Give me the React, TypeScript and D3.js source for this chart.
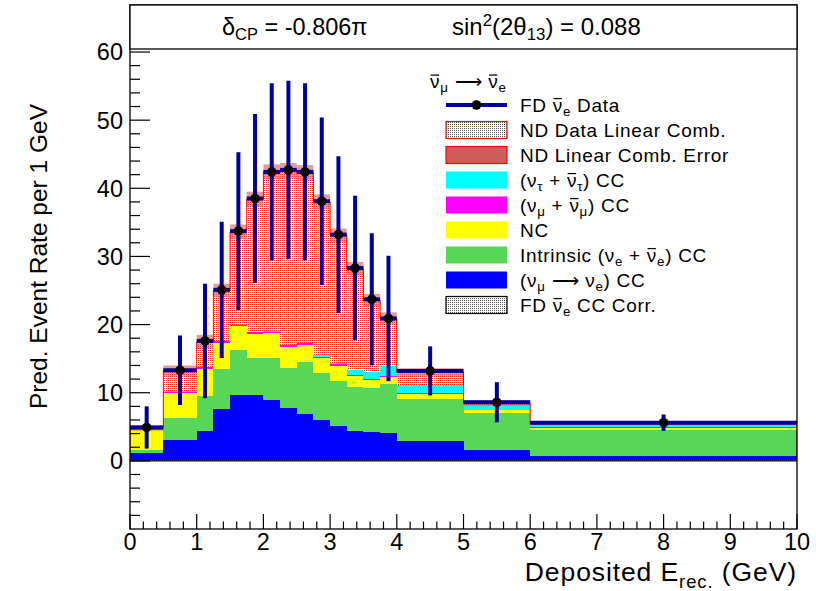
import React from 'react';
import * as d3 from 'd3';

// ---------- data (per 1 GeV) ----------
const binEdges = [0, 0.5, 1, 1.25, 1.5, 1.75, 2, 2.25, 2.5, 2.75, 3, 3.25, 3.5, 3.75, 4, 5, 6, 10];
const dataValues = [4.9, 13.3, 17.6, 25.1, 33.7, 38.5, 42.4, 42.7, 42.4, 38.1, 33.2, 28.3, 23.7, 20.9, 13.2, 8.6, 5.6];
const dataErrors = [3.1, 5.1, 8.4, 10.0, 11.6, 12.4, 13.0, 13.1, 13.0, 12.3, 11.5, 10.6, 9.7, 9.2, 3.6, 2.95, 1.2];
const fdCorr = [0.15, 0.15, 0.15, 0.15, 0.15, 0.15, 0.15, 0.15, 0.15, 0.15, 0.15, 0.15, 0.15, 0.15, 0.15, 0.15, 0.15];
const numuToNue = [1.0, 2.85, 4.3, 7.5, 9.45, 9.45, 8.8, 7.6, 6.75, 5.9, 4.9, 4.3, 4.05, 3.9, 2.75, 1.45, 0.5];
const intrinsicNue = [0.45, 3.25, 5.1, 5.9, 6.65, 5.45, 6.2, 5.9, 7.65, 6.8, 6.7, 6.45, 6.45, 7.2, 6.2, 5.4, 3.9];
const ncValues = [2.95, 3.7, 4.0, 3.8, 3.5, 3.6, 3.6, 3.1, 2.5, 2.2, 2.2, 1.5, 1.25, 1.05, 0.7, 0.4, 0.25];
const numuCC = [0.2, 0.2, 0.2, 0.2, 0.2, 0.2, 0.2, 0.2, 0.2, 0.2, 0.2, 0.15, 0.15, 0.15, 0.15, 0.12, 0.1];
const nutauCC = [0.05, 0.05, 0.05, 0.05, 0.05, 0.05, 0.05, 0.05, 0.05, 0.25, 0.15, 0.85, 1.05, 1.5, 1.2, 0.68, 0.4];
const ndTotal = [4.85, 13.2, 17.5, 25.0, 33.6, 38.4, 42.4, 42.6, 42.3, 38.0, 33.1, 28.2, 23.6, 20.9, 13.0, 8.5, 5.45];
const ndError = [0.4, 0.8, 1.0, 1.0, 1.1, 1.1, 1.1, 1.1, 1.1, 1.1, 1.0, 1.0, 0.9, 0.9, 0.6, 0.4, 0.2];

const xTickValues = [0, 1, 2, 3, 4, 5, 6, 7, 8, 9, 10];
const yTickValues = [0, 10, 20, 30, 40, 50, 60];

type Seg = [string, 'n' | 'sub' | 'sup' | 'bar'];
const NU = '\u03BD';
const ARROW = '\u27F6';
const legendHeader: Seg[] = [[NU, 'bar'], ['\u03BC', 'sub'], [' ' + ARROW + ' ', 'n'], [NU, 'bar'], ['e', 'sub']];
const legendLabels: Seg[][] = [
  [['FD ', 'n'], [NU, 'bar'], ['e', 'sub'], [' Data', 'n']],
  [['ND Data Linear Comb.', 'n']],
  [['ND Linear Comb. Error', 'n']],
  [['(\u03BD', 'n'], ['\u03C4', 'sub'], [' + ', 'n'], [NU, 'bar'], ['\u03C4', 'sub'], [') CC', 'n']],
  [['(\u03BD', 'n'], ['\u03BC', 'sub'], [' + ', 'n'], [NU, 'bar'], ['\u03BC', 'sub'], [') CC', 'n']],
  [['NC', 'n']],
  [['Intrinsic (\u03BD', 'n'], ['e', 'sub'], [' + ', 'n'], [NU, 'bar'], ['e', 'sub'], [') CC', 'n']],
  [['(\u03BD', 'n'], ['\u03BC', 'sub'], [' ' + ARROW + ' \u03BD', 'n'], ['e', 'sub'], [') CC', 'n']],
  [['FD ', 'n'], [NU, 'bar'], ['e', 'sub'], [' CC Corr.', 'n']],
];
const legendKinds = ['data', 'nd', 'nderr', 'nutau', 'numu', 'nc', 'intr', 'sig', 'corr'];

const FONT = '"Liberation Sans", Arial, Helvetica, sans-serif';
const NAVY = '#000099';

const colors: Record<string, string> = {
  corr: 'url(#graydots)',
  sig: '#0000ff',
  intr: '#58d658',
  nc: '#ffff00',
  numu: '#ff00ff',
  nutau: '#00ffff',
};

function RichText({ segs, x, y, size, anchor, spacing }: { segs: Seg[]; x: number; y: number; size: number; anchor?: string; spacing?: number }) {
  const refs = React.useRef<(SVGTSpanElement | null)[]>([]);
  const [bars, setBars] = React.useState<{ x1: number; x2: number }[]>([]);
  React.useLayoutEffect(() => {
    const b: { x1: number; x2: number }[] = [];
    segs.forEach((s, i) => {
      const el = refs.current[i];
      if (s[1] === 'bar' && el) {
        const bb = el.getBBox();
        b.push({ x1: bb.x + size * 0.04, x2: bb.x + bb.width - size * 0.02 - (spacing || 0) });
      }
    });
    setBars(b);
  }, []);
  let shift = 0;
  const out: React.ReactNode[] = [];
  segs.forEach((s, i) => {
    const small = s[1] === 'sub' || s[1] === 'sup';
    const target = s[1] === 'sub' ? size * 0.22 : s[1] === 'sup' ? -size * 0.38 : 0;
    const dy = target - shift;
    shift = target;
    out.push(
      <tspan key={i} ref={(el) => { refs.current[i] = el; }} dy={dy} fontSize={small ? size * 0.7 : size}>
        {s[0]}
      </tspan>
    );
  });
  return (
    <g>
      <text x={x} y={y} fontSize={size} fontFamily={FONT} textAnchor={anchor || 'start'} fill="#000"
        letterSpacing={spacing || 0}>
        {out}
      </text>
      {bars.map((b, i) => (
        <line key={i} x1={b.x1} x2={b.x2} y1={y - size * 0.68} y2={y - size * 0.68} stroke="#000" strokeWidth={size * 0.065} />
      ))}
    </g>
  );
}

export default function App() {
  const W = 816, H = 591;
  const X0 = 130, X1 = 797, YB = 529, YT = 5;
  const x = d3.scaleLinear().domain([0, 10]).range([X0, X1]);
  const y = d3.scaleLinear().domain([-10, 66.9]).range([YB, YT]);

  const nb = binEdges.length - 1;
  const rows = d3.range(nb).map((i) => ({
    corr: fdCorr[i], sig: numuToNue[i], intr: intrinsicNue[i], nc: ncValues[i], numu: numuCC[i], nutau: nutauCC[i],
  }));
  const keys = ['corr', 'sig', 'intr', 'nc', 'numu', 'nutau'];
  const series = d3.stack<any>().keys(keys)(rows as any);

  const stepPts: [number, number][] = [[binEdges[0], 0]];
  d3.range(nb).forEach((i) => { stepPts.push([binEdges[i], ndTotal[i]]); stepPts.push([binEdges[i + 1], ndTotal[i]]); });
  stepPts.push([binEdges[nb], 0]);
  const outline = d3.line<[number, number]>().x((d) => x(d[0])).y((d) => y(d[1]))(stepPts) || '';

  const xMinor = d3.range(0, 10.001, 0.2).filter((v) => Math.abs(v - Math.round(v)) > 1e-6);
  const yMinor = d3.range(-10, 66, 2).filter((v) => v % 10 !== 0);

  const legX0 = 446, legX1 = 507, legTextX = 520;
  const legRowY = (i: number) => 105 + i * 25;
  const LEG_FS = 19;
  const LEG_LS = 0.7;

  return (
    <svg width={W} height={H} style={{ position: 'absolute', left: 0, top: 0, background: '#fff' }}>
      <defs>
        <pattern id="reddots" width="2" height="2" patternUnits="userSpaceOnUse">
          <rect width="2" height="2" fill="#fff" />
          <rect width="1" height="1" fill="#ff3030" />
        </pattern>
        <pattern id="graydots" width="2" height="2" patternUnits="userSpaceOnUse">
          <rect width="2" height="2" fill="#fff" />
          <rect width="1" height="1" fill="#555" />
        </pattern>
        <clipPath id="frameclip">
          <rect x={X0} y={YT} width={X1 - X0} height={YB - YT} />
        </clipPath>
      </defs>
      <rect width={W} height={H} fill="#fff" />

      <g clipPath="url(#frameclip)">
        {d3.range(nb).map((i) => (
          <rect key={'nd' + i} x={x(binEdges[i])} width={x(binEdges[i + 1]) - x(binEdges[i])}
            y={y(ndTotal[i])} height={y(0) - y(ndTotal[i])} fill="url(#reddots)" shapeRendering="crispEdges" />
        ))}
        {series.map((s: any) => (
          <g key={s.key}>
            {s.map((d: any, i: number) => (
              <rect key={i} x={x(binEdges[i])} width={x(binEdges[i + 1]) - x(binEdges[i])}
                y={y(d[1])} height={Math.max(0, y(d[0]) - y(d[1]))} fill={colors[s.key]} shapeRendering="crispEdges" />
            ))}
          </g>
        ))}
        <line x1={X0} x2={X1} y1={y(0)} y2={y(0)} stroke="#000" strokeWidth={1.2} />
        {d3.range(nb).map((i) => (
          <rect key={'err' + i} x={x(binEdges[i])} width={x(binEdges[i + 1]) - x(binEdges[i])}
            y={y(ndTotal[i] + ndError[i])} height={y(ndTotal[i] - ndError[i]) - y(ndTotal[i] + ndError[i])}
            fill="#cd5c5c" fillOpacity={0.6} />
        ))}
        <path d={outline} fill="none" stroke="#ff0000" strokeWidth={1} />
        {d3.range(nb).map((i) => {
          const xc = x((binEdges[i] + binEdges[i + 1]) / 2);
          return (
            <g key={'d' + i}>
              <line x1={x(binEdges[i])} x2={x(binEdges[i + 1])} y1={y(dataValues[i])} y2={y(dataValues[i])} stroke={NAVY} strokeWidth={4} />
              <line x1={xc} x2={xc} y1={y(dataValues[i] - dataErrors[i])} y2={y(dataValues[i] + dataErrors[i])} stroke={NAVY} strokeWidth={4} />
              <circle cx={xc} cy={y(dataValues[i])} r={4.8} fill="#000" />
            </g>
          );
        })}
      </g>

      <rect x={X0} y={YT} width={X1 - X0} height={YB - YT} fill="none" stroke="#000" strokeWidth={1.3} />
      {xTickValues.map((t) => (
        <g key={'xt' + t}>
          <line x1={x(t)} x2={x(t)} y1={YB} y2={YB - 15} stroke="#000" strokeWidth={1.2} />
          <text x={x(t)} y={550} fontSize={23.5} fontFamily={FONT} textAnchor="middle">{t}</text>
        </g>
      ))}
      {xMinor.map((t, i) => (
        <line key={'xm' + i} x1={x(t)} x2={x(t)} y1={YB} y2={YB - 7.5} stroke="#000" strokeWidth={1.2} />
      ))}
      {yTickValues.map((t) => (
        <g key={'yt' + t}>
          <line x1={X0} x2={X0 + 20} y1={y(t)} y2={y(t)} stroke="#000" strokeWidth={1.2} />
          <text x={123} y={y(t)} dy="0.36em" fontSize={23.5} fontFamily={FONT} textAnchor="end">{t}</text>
        </g>
      ))}
      {yMinor.map((t, i) => (
        <line key={'ym' + i} x1={X0} x2={X0 + 10} y1={y(t)} y2={y(t)} stroke="#000" strokeWidth={1.2} />
      ))}

      <text transform="translate(47,104) rotate(-90)" fontSize={24.5} fontFamily={FONT} textAnchor="end">
        Pred. Event Rate per 1 GeV
      </text>
      <text x={797} y={581} fontSize={26.5} fontFamily={FONT} textAnchor="end" letterSpacing={0.9}>
        <tspan>Deposited E</tspan>
        <tspan dy={7} fontSize={18.5}>rec.</tspan>
        <tspan dy={-7}> (GeV)</tspan>
      </text>

      <rect x={X0} y={YT} width={X1 - X0} height={44} fill="#fff" stroke="#000" strokeWidth={1.3} />
      <RichText segs={[['\u03B4', 'n'], ['CP', 'sub'], [' = -0.806\u03C0', 'n']]} x={222} y={35} size={23.5} />
      <RichText segs={[['sin', 'n'], ['2', 'sup'], ['(2\u03B8', 'n'], ['13', 'sub'], [') = 0.088', 'n']]} x={452} y={35} size={24} />

      <RichText segs={legendHeader} x={430} y={88} size={LEG_FS} spacing={LEG_LS} />
      {legendLabels.map((segs, i) => {
        const cy = legRowY(i);
        const kind = legendKinds[i];
        let sw: React.ReactNode = null;
        if (kind === 'data') {
          sw = (
            <g>
              <line x1={legX0} x2={legX1} y1={cy} y2={cy} stroke={NAVY} strokeWidth={4} />
              <circle cx={(legX0 + legX1) / 2} cy={cy} r={4.8} fill="#000" />
            </g>
          );
        } else {
          const fill = kind === 'nd' ? 'url(#graydots)' : kind === 'nderr' ? '#cd5c5c' : kind === 'corr' ? 'url(#graydots)' : colors[kind];
          const stroke = kind === 'nd' || kind === 'nderr' ? '#ff0000' : kind === 'corr' ? '#000' : 'none';
          sw = <rect x={legX0} y={cy - 8.5} width={legX1 - legX0} height={17} fill={fill} stroke={stroke} strokeWidth={1.2} />;
        }
        return (
          <g key={'leg' + i}>
            {sw}
            <RichText segs={segs} x={legTextX} y={cy + 6.5} size={LEG_FS} spacing={LEG_LS} />
          </g>
        );
      })}
    </svg>
  );
}
